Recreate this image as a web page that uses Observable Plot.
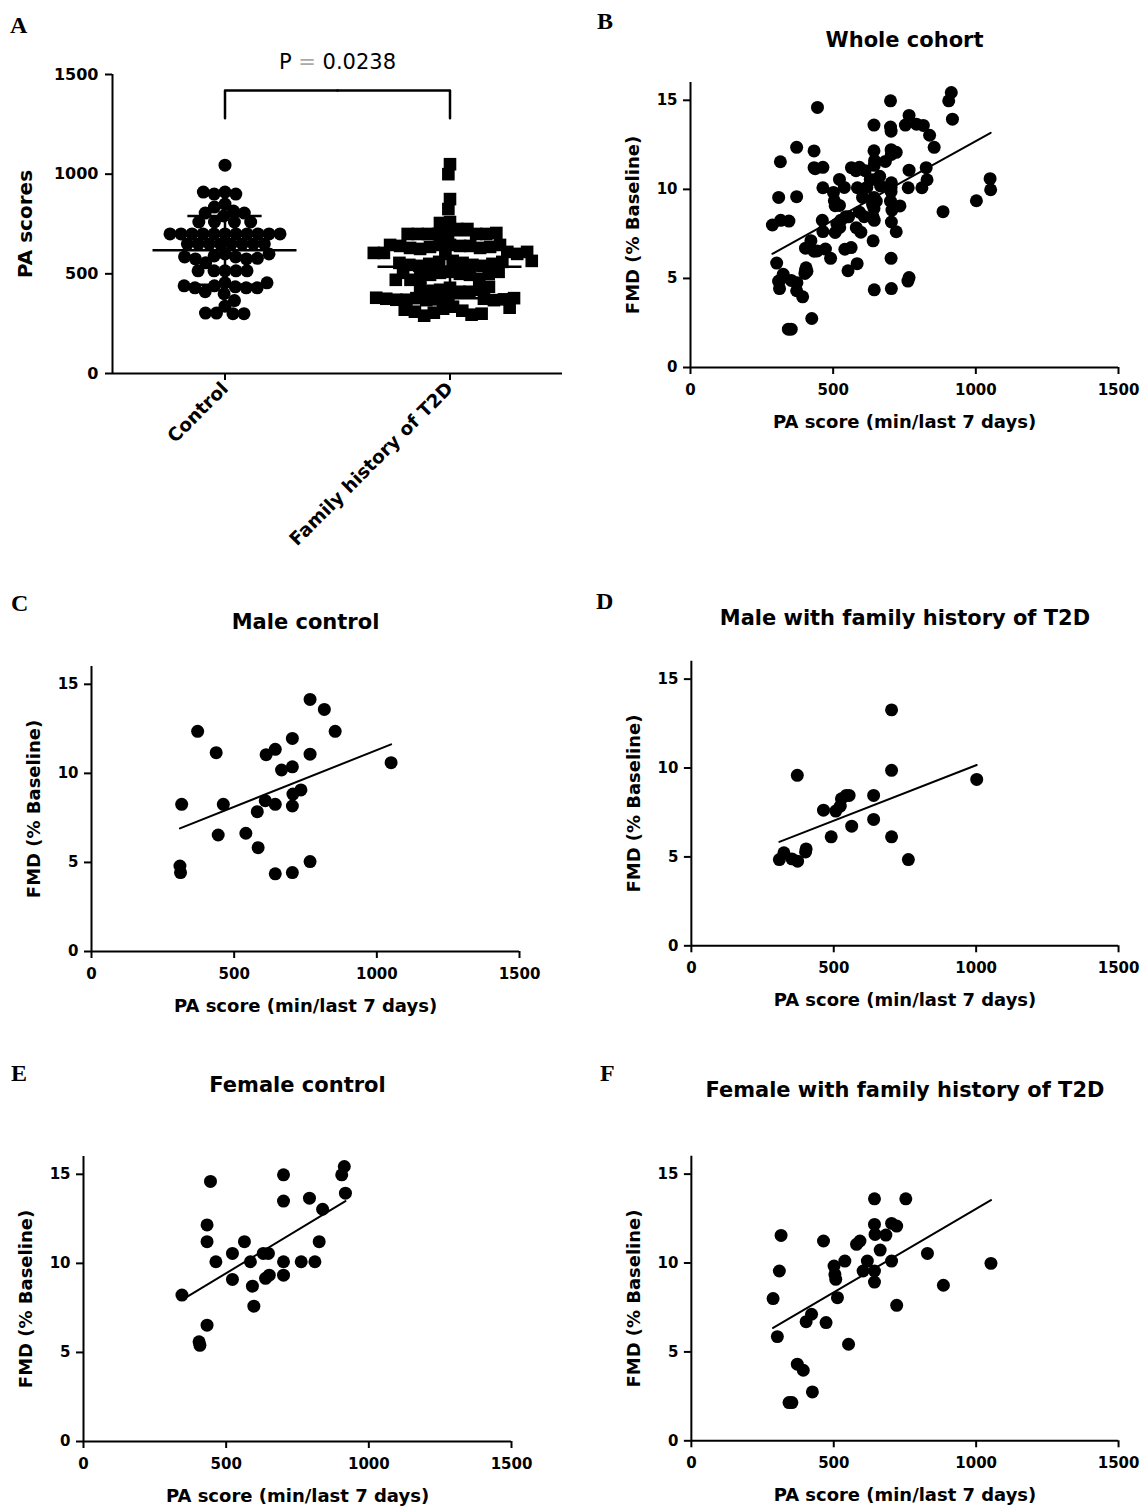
<!DOCTYPE html>
<html><head><meta charset="utf-8">
<script src="https://cdn.jsdelivr.net/npm/d3@7"></script>
<script src="https://cdn.jsdelivr.net/npm/@observablehq/plot@0.6"></script>
<style>
body{margin:0;background:#fff;}
#page{position:relative;width:1143px;height:1508px;background:#fff;overflow:hidden;}
.panel{position:absolute;}
.panel svg{overflow:visible;}
.letter{position:absolute;font-family:"Liberation Serif","DejaVu Serif",serif;font-weight:bold;font-size:24px;line-height:1;color:#000;}
</style></head>
<body><div id="page"></div>
<script>
// ---------- Data ----------
const groups = ["Control", "Family history of T2D"];
const pText = "P = 0.0238";
const controlPA = [1045, 910, 900, 900, 910, 850, 835, 815, 805, 790, 805, 760, 760, 760, 760,
  700, 700, 700, 700, 700, 700, 700, 700, 700, 700, 700,
  650, 650, 650, 650, 650, 650, 650, 650,
  600, 590, 585, 575, 555, 575, 578, 585, 600,
  515, 515, 515, 515, 515,
  455, 440, 435, 430, 410, 400, 430, 430, 440, 455,
  338, 366, 303, 300, 300, 303];
const familyPA = [1050, 1000, 875, 825, 760, 755, 725, 725,
  705, 700, 700, 700, 700, 700, 700, 705,
  645, 645, 640, 640, 635, 630, 625, 630, 635, 640, 645, 645,
  610, 605, 600, 600, 605, 610,
  565, 560, 555, 550, 545, 540, 540, 545, 550, 555, 560, 565,
  510, 505, 500, 495, 495, 500, 505, 510,
  480, 475, 470, 470,
  430, 420, 410, 410, 415, 420, 425, 435,
  380, 378, 375, 372, 370, 368, 368, 370, 372, 375, 378, 380,
  335, 325, 315, 305, 295, 290, 300, 310, 320, 330];

const maleControlPA = [316, 310, 312, 372, 437, 462, 444, 541, 581, 584, 609, 612, 644, 644, 644, 666, 704, 704, 706, 704, 704, 734, 766, 766, 766, 816, 854, 1050];
const maleControlFMD = [8.26, 4.8, 4.43, 12.36, 11.16, 8.26, 6.54, 6.64, 7.85, 5.83, 8.47, 11.05, 11.35, 8.26, 4.36, 10.19, 10.37, 11.96, 8.84, 8.17, 4.43, 9.07, 14.15, 11.08, 5.05, 13.59, 12.36, 10.6];

const maleFamilyPA = [309, 325, 353, 373, 372, 401, 403, 464, 491, 507, 523, 527, 544, 554, 563, 640, 640, 703, 703, 703, 762, 1002];
const maleFamilyFMD = [4.85, 5.23, 4.89, 4.76, 9.59, 5.28, 5.45, 7.63, 6.13, 7.58, 7.86, 8.27, 8.46, 8.46, 6.73, 8.46, 7.11, 13.27, 9.87, 6.13, 4.85, 9.36];

const femaleControlPA = [345, 405, 408, 433, 433, 433, 445, 464, 522, 522, 564, 585, 592, 597, 630, 648, 638, 651, 701, 701, 701, 701, 763, 792, 811, 826, 838, 905, 914, 918];
const femaleControlFMD = [8.22, 5.6, 5.4, 6.53, 11.22, 12.16, 14.6, 10.09, 10.56, 9.1, 11.22, 10.09, 8.72, 7.6, 10.56, 10.56, 9.16, 9.34, 14.97, 13.5, 10.09, 9.34, 10.09, 13.66, 10.09, 11.22, 13.04, 14.97, 15.44, 13.94];

const femaleFamilyPA = [287, 302, 309, 315, 343, 353, 372, 393, 403, 422, 425, 464, 473, 501, 504, 507, 513, 539, 552, 580, 592, 603, 618, 643, 643, 645, 643, 643, 663, 683, 703, 703, 721, 721, 753, 829, 885, 1052];
const femaleFamilyFMD = [8.0, 5.86, 9.55, 11.55, 2.15, 2.15, 4.31, 3.97, 6.7, 7.12, 2.75, 11.24, 6.65, 9.83, 9.36, 9.08, 8.05, 10.11, 5.43, 11.05, 11.24, 9.55, 10.11, 13.61, 12.17, 11.61, 9.55, 8.93, 10.73, 11.57, 12.23, 10.11, 12.08, 7.62, 13.61, 10.54, 8.75, 9.98];

const titles = ["Whole cohort", "Male control", "Male with family history of T2D", "Female control", "Female with family history of T2D"];
const xLabel = "PA score (min/last 7 days)";
const yLabel = "FMD (% Baseline)";
const aYLabel = "PA scores";
const aTicks = [0, 500, 1000, 1500];
const xTicks = [0, 500, 1000, 1500];
const yTicks = [0, 5, 10, 15];

// ---------- Helpers ----------
const page = document.getElementById("page");
const baseStyle = {fontFamily: '"DejaVu Sans", sans-serif', fontWeight: "bold", color: "#000", background: "transparent", overflow: "visible"};
const plain = d => String(d);

function place(node, left, top) {
  const d = document.createElement("div");
  d.className = "panel";
  d.style.left = left + "px";
  d.style.top = top + "px";
  d.appendChild(node);
  page.appendChild(d);
}
function letter(t, left, top) {
  const d = document.createElement("div");
  d.className = "letter";
  d.textContent = t;
  d.style.left = left + "px";
  d.style.top = top + "px";
  page.appendChild(d);
}

// custom square symbol whose side equals 2r
const squareSym = {draw(ctx, size) { const r = Math.sqrt(size / Math.PI); ctx.rect(-r, -r, 2 * r, 2 * r); }};

// ---------- Panel A ----------
const aData = [
  ...controlPA.map(v => ({group: groups[0], pa: v})),
  ...familyPA.map(v => ({group: groups[1], pa: v}))
];
const stats = groups.map((g, i) => {
  const v = i ? familyPA : controlPA;
  return {group: g, mean: d3.mean(v), sd: d3.deviation(v)};
});
const bracketLow = 1280, bracketHigh = 1420;
const bracket = [
  {group: groups[0], x: 0, y: bracketLow}, {group: groups[0], x: 0, y: bracketHigh}, {group: groups[0], x: 1, y: bracketHigh},
  {group: groups[1], x: -1, y: bracketHigh}, {group: groups[1], x: 0, y: bracketHigh}, {group: groups[1], x: 0, y: bracketLow}
];

const plotA = Plot.plot({
  width: 582, height: 575, marginLeft: 112, marginRight: 20, marginTop: 74, marginBottom: 202,
  fx: {domain: groups, padding: 0},
  x: {domain: [-1, 1], axis: null},
  y: {domain: [0, 1500]},
  style: baseStyle,
  marks: [
    Plot.axisY({ticks: aTicks, tickFormat: plain, tickSize: 7, tickPadding: 7, strokeWidth: 2, fontSize: 16, label: null}),
    Plot.axisFx({anchor: "bottom", tickSize: 7, tickPadding: 5, tickRotate: -45, strokeWidth: 2, fontSize: 18.5, label: null}),
    Plot.ruleY([0], {strokeWidth: 2}),
    Plot.ruleX([{group: groups[0]}], {fx: "group", x: -1, strokeWidth: 2}),
    Plot.text([{group: groups[0], t: aYLabel}], {fx: "group", text: "t", frameAnchor: "left", textAnchor: "middle", lineAnchor: "middle", rotate: -90, dx: -87, fontSize: 20}),
    Plot.dot(aData.filter(d => d.group === groups[0]), Plot.dodgeX({anchor: "middle", padding: -2}, {fx: "group", y: "pa", r: 6.5, fill: "black"})),
    Plot.dot(aData.filter(d => d.group === groups[1]), Plot.dodgeX({anchor: "middle", padding: -2.5}, {fx: "group", y: "pa", r: 6.3, fill: "black", symbol: squareSym})),
    Plot.ruleY(stats, {fx: "group", y: "mean", x1: -0.64, x2: 0.64, strokeWidth: 2.5}),
    Plot.ruleY(stats, {fx: "group", y: d => d.mean + d.sd, x1: -0.33, x2: 0.33, strokeWidth: 2.5}),
    Plot.ruleY(stats, {fx: "group", y: d => d.mean - d.sd, x1: -0.33, x2: 0.33, strokeWidth: 2.5}),
    Plot.ruleX(stats, {fx: "group", x: 0, y1: d => d.mean - d.sd, y2: d => d.mean + d.sd, strokeWidth: 2.5}),
    Plot.line(bracket, {fx: "group", x: "x", y: "y", z: "group", strokeWidth: 2.5}),
    Plot.text([{group: groups[0], t: pText}], {fx: "group", text: "t", x: 1, y: 1560, fontSize: 21, fontWeight: "normal"})
  ]
});
place(plotA, 0, 0);
// grey "=" in the P-value label
plotA.querySelectorAll("text").forEach(t => {
  if (t.textContent === pText) {
    const parts = pText.split("=");
    t.textContent = "";
    const ns = "http://www.w3.org/2000/svg";
    const a = document.createElementNS(ns, "tspan"); a.textContent = parts[0];
    const b = document.createElementNS(ns, "tspan"); b.textContent = "="; b.setAttribute("fill", "#aaa");
    const c = document.createElementNS(ns, "tspan"); c.textContent = parts[1];
    t.append(a, b, c);
  }
});

// ---------- Scatter panels ----------
function scatterPanel(title, pa, fmd, titleOffset) {
  const data = pa.map((x, i) => ({pa: x, fmd: fmd[i]}));
  return Plot.plot({
    width: 528, height: 435, marginLeft: 75, marginRight: 25, marginTop: 80, marginBottom: 70,
    x: {domain: [0, 1500]},
    y: {domain: [0, 16]},
    style: baseStyle,
    marks: [
      Plot.axisX({ticks: xTicks, tickFormat: plain, tickSize: 7, tickPadding: 10, strokeWidth: 2, fontSize: 15, label: null}),
      Plot.axisY({ticks: yTicks, tickFormat: plain, tickSize: 7, tickPadding: 6, strokeWidth: 2, fontSize: 15, label: null}),
      Plot.ruleX([0], {strokeWidth: 2}),
      Plot.ruleY([0], {strokeWidth: 2}),
      Plot.dot(data, {x: "pa", y: "fmd", r: 6.5, fill: "black"}),
      Plot.linearRegressionY(data, {x: "pa", y: "fmd", ci: 0, stroke: "black", strokeWidth: 2}),
      Plot.text([xLabel], {text: d => d, frameAnchor: "bottom", lineAnchor: "middle", textAnchor: "middle", dy: 55, fontSize: 18}),
      Plot.text([yLabel], {text: d => d, frameAnchor: "left", lineAnchor: "middle", textAnchor: "middle", rotate: -90, dx: -57, fontSize: 18}),
      Plot.text([title], {text: d => d, frameAnchor: "top", lineAnchor: "middle", textAnchor: "middle", dy: titleOffset, fontSize: 21})
    ]
  });
}

const allPA = [...maleControlPA, ...maleFamilyPA, ...femaleControlPA, ...femaleFamilyPA];
const allFMD = [...maleControlFMD, ...maleFamilyFMD, ...femaleControlFMD, ...femaleFamilyFMD];

// svg top = frameTop - 80
place(scatterPanel(titles[0], allPA, allFMD, -42), 615, 2);
place(scatterPanel(titles[1], maleControlPA, maleControlFMD, -44), 16, 586);
place(scatterPanel(titles[2], maleFamilyPA, maleFamilyFMD, -43), 616, 581);
place(scatterPanel(titles[3], femaleControlPA, femaleControlFMD, -71), 8, 1076);
place(scatterPanel(titles[4], femaleFamilyPA, femaleFamilyFMD, -66), 616, 1076);

letter("A", 10, 13);
letter("B", 597, 9);
letter("C", 11, 591);
letter("D", 596, 589);
letter("E", 11, 1061);
letter("F", 600, 1061);
</script></body></html>
